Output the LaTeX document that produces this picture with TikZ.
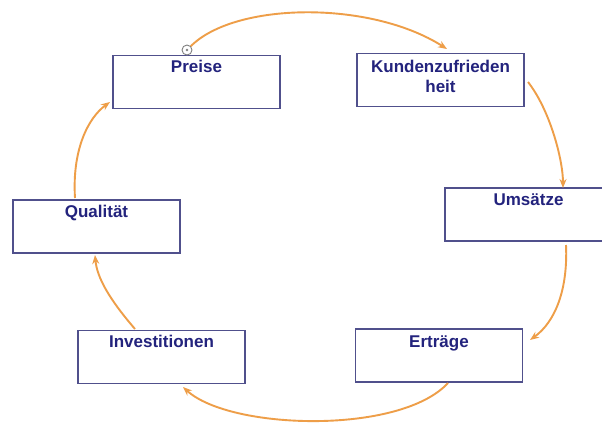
\documentclass[tikz,border=0pt]{standalone}
\usepackage{fontspec}
\setmainfont{Liberation Sans}
\usetikzlibrary{arrows.meta,calc}
\definecolor{boxline}{RGB}{80,80,140}
\definecolor{boxtext}{RGB}{35,35,125}
\definecolor{arr}{RGB}{238,158,72}
\tikzset{
  box/.style={draw=boxline, line width=1.8pt, rectangle, minimum width=167pt, minimum height=53pt, inner sep=0pt, fill=white},
  lbl/.style={anchor=north, inner sep=0pt, text=boxtext, font=\fontsize{17}{20}\selectfont\bfseries, align=center},
  flow/.style={draw=arr, line width=1.9pt, -{Stealth[length=9pt,width=7pt]}},
  handle/.style={circle, draw=gray, line width=0.9pt, minimum size=10pt, inner sep=0pt, fill=white}
}
\begin{document}
\begin{tikzpicture}[x=1pt,y=-1pt]
\useasboundingbox (0,0) rectangle (602,424);
\clip (0,0) rectangle (602,424);
\fill[white] (0,0) rectangle (602,424);
% boxes
\node[box] (preise) at (196.5,82) {};
\node[box] (kunden) at (440.5,80) {};
\node[box] (umsaetze) at (528.5,214.5) {};
\node[box] (ertraege) at (439,355.5) {};
\node[box] (invest) at (161.5,357) {};
\node[box] (qual) at (96.5,226.5) {};
% labels
\node[lbl] (preiseT) at ($(preise.north)+(0,5)$) {Preise};
\node[lbl] (kundenT) at ($(kunden.north)+(0,7)$) {Kundenzufrieden\\heit};
\node[lbl] (umsaetzeT) at ($(umsaetze.north)+(0,6)$) {Umsätze};
\node[lbl] (ertraegeT) at ($(ertraege.north)+(0,7)$) {Erträge};
\node[lbl] (investT) at ($(invest.north)+(0,5)$) {Investitionen};
\node[lbl] (qualT) at ($(qual.north)+(0,6)$) {Qualität};
% handle
\node[handle] (h) at (187,50) {};
\fill[gray] (h.center) circle (1.3pt);
% connectors
\coordinate (a1) at (447,49);
\draw[flow] (h.north east) .. controls (235,2) and (370,0) .. (a1);
\coordinate (s2) at (528,82);
\coordinate (e2) at (563,188);
\draw[flow] (s2) .. controls (550,110) and (563,160) .. (e2);
\coordinate (s3) at (566,245);
\coordinate (e3) at (530,340);
\draw[flow] (s3) .. controls (568,290) and (555,322) .. (e3);
\coordinate (s4) at (448,383);
\coordinate (e4) at (183,387);
\draw[flow] (s4) .. controls (400,435) and (230,430) .. (e4);
\coordinate (s5) at (135,329);
\coordinate (e5) at (95,255);
\draw[flow] (s5) .. controls (110,300) and (97,278) .. (e5);
\coordinate (s6) at (75,198);
\coordinate (e6) at (110,102);
\draw[flow] (s6) .. controls (72,150) and (88,118) .. (e6);
\end{tikzpicture}
\end{document}
